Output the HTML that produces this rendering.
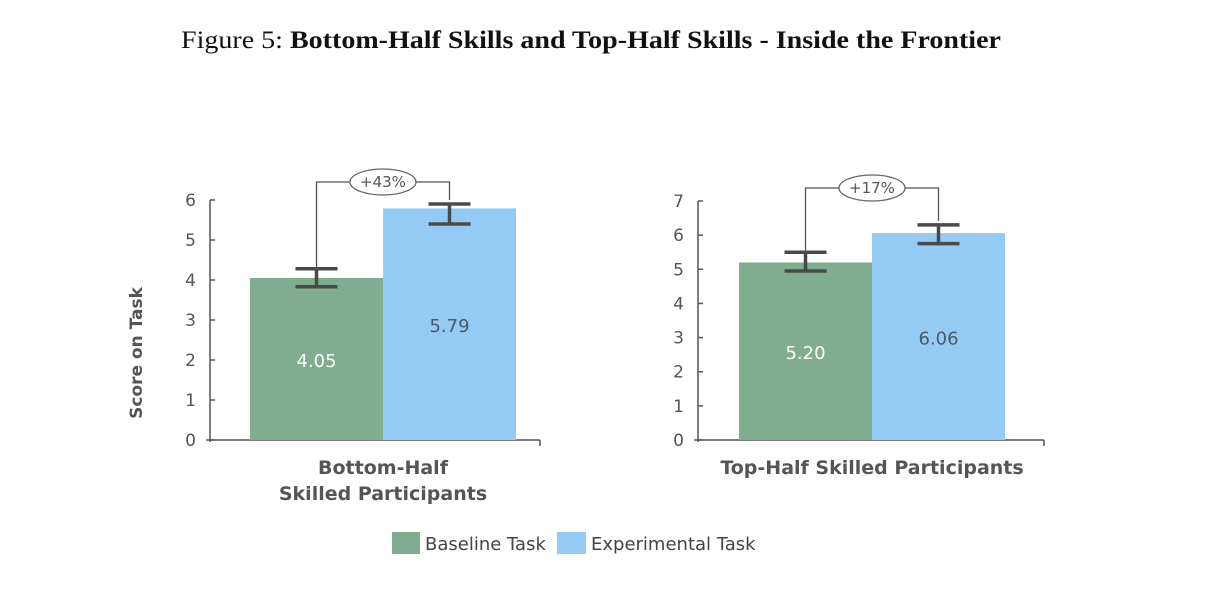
<!DOCTYPE html>
<html><head><meta charset="utf-8"><style>
body{margin:0;background:#fff;width:1228px;height:610px;overflow:hidden}
text{font-family:"DejaVu Sans","Liberation Sans",sans-serif}
</style></head><body>
<svg id="svg" width="1228" height="610">
<text x="181" y="48" textLength="820" lengthAdjust="spacingAndGlyphs" style="font-family:'Liberation Serif',serif;font-size:25px" fill="#111">Figure 5: <tspan font-weight="bold">Bottom-Half Skills and Top-Half Skills - Inside the Frontier</tspan></text>
<text transform="translate(142,353) rotate(-90)" text-anchor="middle" font-size="17" font-weight="bold" fill="#555">Score on Task</text>
<g id="g"></g>
<rect x="392" y="532" width="28" height="22" fill="#80ad90"/>
<text x="425" y="550" font-size="18" fill="#444">Baseline Task</text>
<rect x="557" y="532" width="29" height="22" fill="#94cbf4"/>
<text x="591" y="550" font-size="18" fill="#444">Experimental Task</text>
</svg>
<script>
const groups=["Bottom-Half Skilled Participants","Top-Half Skilled Participants"];
const baseline=[4.05,5.20];
const experimental=[5.79,6.06];
const baseErrLo=[3.83,4.95];
const baseErrHi=[4.28,5.50];
const expErrLo=[5.40,5.75];
const expErrHi=[5.90,6.30];
const gains=["+43%","+17%"];
const yMax=[6,7];
const NS="http://www.w3.org/2000/svg";
const g=document.getElementById('g');
function mk(t,a,p){const e=document.createElementNS(NS,t);for(const k in a)e.setAttribute(k,a[k]);(p||g).appendChild(e);return e;}
const panels=[{ax:210,x1:540,b0:250,bw:133,top:200,labels:["Bottom-Half","Skilled Participants"],lx:383},
{ax:698,x1:1044,b0:739,bw:133,top:201,labels:["Top-Half Skilled Participants"],lx:872}];
const zero=440;
panels.forEach((P,i)=>{
 const y=v=>zero-(zero-P.top)*v/yMax[i];
 let l=mk('line',{x1:P.ax,y1:P.top,x2:P.ax,y2:zero+2,stroke:'#555','stroke-width':1.5});
 
 l=mk('line',{x1:P.ax-4,y1:zero,x2:P.x1,y2:zero,stroke:'#555','stroke-width':1.5});
 
 mk('line',{x1:P.x1,y1:zero,x2:P.x1,y2:zero+6,stroke:'#555','stroke-width':1.5});
 for(let t=0;t<=yMax[i];t++){
  mk('line',{x1:P.ax,y1:y(t),x2:P.ax+5,y2:y(t),stroke:'#555','stroke-width':1.5});
  const tx=mk('text',{x:P.ax-14,y:y(t)+6,'text-anchor':'end','font-size':17,fill:'#555'});tx.textContent=t;
  
 }
 const vals=[baseline[i],experimental[i]],lo=[baseErrLo[i],expErrLo[i]],hi=[baseErrHi[i],expErrHi[i]];
 const cols=['#80ad90','#94cbf4'],tc=['#fff','#4a5a66'];
 const cx=[];
 vals.forEach((v,j)=>{
  const x=P.b0+j*P.bw;
  const r=mk('rect',{x:x,y:y(v),width:P.bw,height:zero-y(v),fill:cols[j]});
  
  const c=x+P.bw/2;
  const t=mk('text',{x:c,y:y(v/2)+8,'text-anchor':'middle','font-size':18,fill:tc[j]});t.textContent=v.toFixed(2);
  
  const ec=c;
  const eg=mk('g',{stroke:'#4a4a4a','stroke-width':3.5});
  
  mk('line',{x1:ec-21,y1:y(hi[j]),x2:ec+21,y2:y(hi[j])},eg);
  mk('line',{x1:ec-21,y1:y(lo[j]),x2:ec+21,y2:y(lo[j])},eg);
  mk('line',{x1:ec,y1:y(hi[j]),x2:ec,y2:y(lo[j])},eg);
  cx.push(ec);
 });
 const by=y(yMax[i])-18+(i?5:0);
 const br=mk('polyline',{points:`${cx[0]},${y(baseErrHi[i])} ${cx[0]},${by} ${cx[1]},${by} ${cx[1]},${y(expErrHi[i])-4}`,fill:'none',stroke:'#555','stroke-width':1.3});
 
 const mid=(cx[0]+cx[1])/2;
 const el=mk('ellipse',{cx:mid,cy:by,rx:33,ry:13,fill:'#fff',stroke:'#666','stroke-width':1.3});
 
 const gt=mk('text',{x:mid,y:by+5,'text-anchor':'middle','font-size':15,fill:'#555'});gt.textContent=gains[i];
 
 P.labels.forEach((s,k)=>{const t=mk('text',{x:P.lx,y:474+k*26,'text-anchor':'middle','font-size':19,'font-weight':'bold',fill:'#555'});t.textContent=s;
  });
});
</script>
</body></html>
